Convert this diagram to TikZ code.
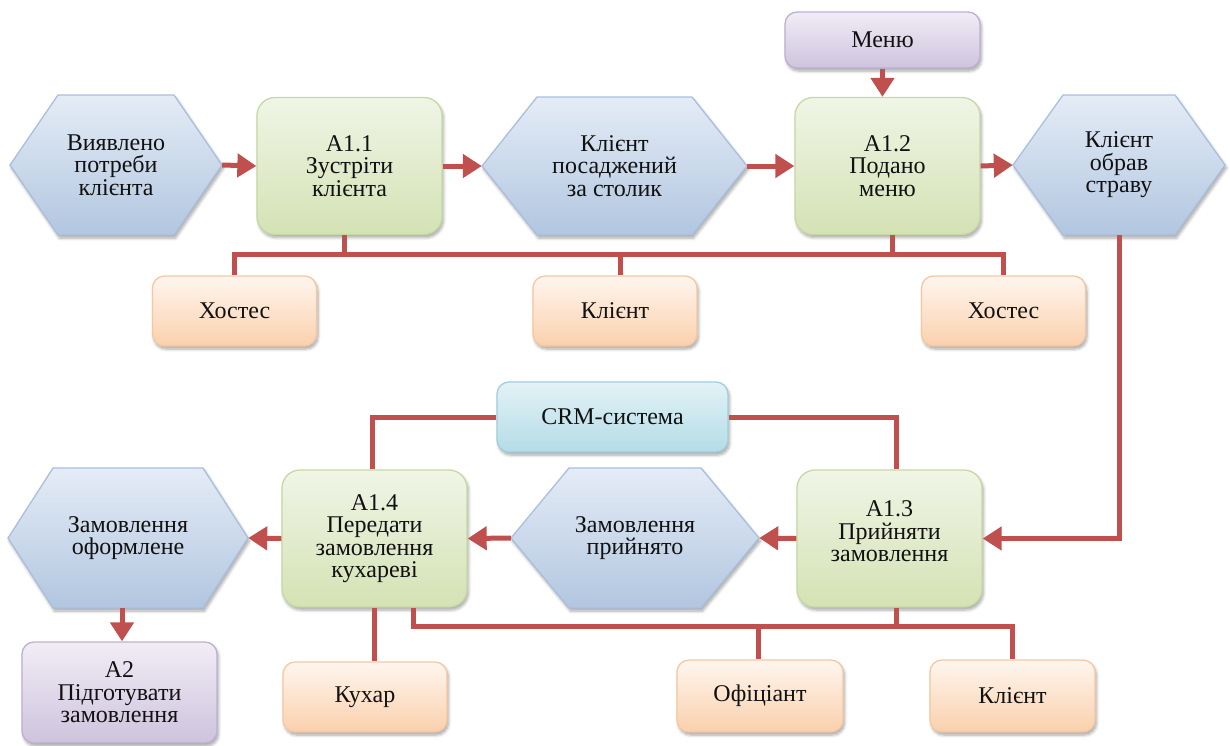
\documentclass[tikz,border=0pt]{standalone}
\usepackage{fontspec}
\setmainfont{Liberation Serif}
\usetikzlibrary{arrows.meta,shadows,shadows.blur,calc}

\definecolor{linkred}{HTML}{C0504D}
\definecolor{hextop}{HTML}{E4ECF6}
\definecolor{hexbot}{HTML}{B2C6E0}
\definecolor{hexline}{HTML}{A9BFDC}
\definecolor{grtop}{HTML}{F0F5E6}
\definecolor{grbot}{HTML}{D4E2B4}
\definecolor{grline}{HTML}{C6D9A3}
\definecolor{ortop}{HTML}{FFF6EF}
\definecolor{orbot}{HTML}{FAD0AC}
\definecolor{orline}{HTML}{F6C7A0}
\definecolor{pptop}{HTML}{F1EDF6}
\definecolor{ppbot}{HTML}{CEC3DD}
\definecolor{ppline}{HTML}{BDB0D2}
\definecolor{cytop}{HTML}{E3F2F6}
\definecolor{cybot}{HTML}{B4DCE7}
\definecolor{cyline}{HTML}{9ECFDD}
\definecolor{txt}{HTML}{111111}

\tikzset{
  softshadow/.style={blur shadow={shadow blur steps=6, shadow xshift=1.5pt,
      shadow yshift=-3pt, shadow blur radius=3pt, shadow opacity=35}},
  boxbase/.style={rectangle, draw, line width=1.3pt, align=center, text=txt,
      font=\fontsize{24}{22.5}\selectfont, inner sep=2pt, softshadow},
  funcbox/.style={boxbase, rounded corners=18pt, draw=grline, top color=grtop,
      bottom color=grbot, minimum width=185pt, minimum height=137pt},
  rolebox/.style={boxbase, rounded corners=12pt, draw=orline, top color=ortop,
      bottom color=orbot, minimum width=164pt, minimum height=70pt},
  ctrlbox/.style={boxbase, rounded corners=12pt, draw=ppline, top color=pptop,
      bottom color=ppbot},
  toolbox/.style={boxbase, rounded corners=12pt, draw=cyline, top color=cytop,
      bottom color=cybot},
  hexfill/.style={draw=hexline, line width=1.3pt, top color=hextop,
      bottom color=hexbot, softshadow},
  hexlabel/.style={rectangle, align=center, text=txt,
      font=\fontsize{24}{22.5}\selectfont, inner sep=0pt},
  link/.style={draw=linkred, line width=5pt},
  flow/.style={link, -{Triangle[length=19pt,width=23pt]}},
}

% hexagon state: name, centre x, centre y, half width, half height, inset, text
\newcommand\statehex[7]{%
  \path[hexfill] (#2-#4,#3) -- (#2-#4+#6,#3-#5) -- (#2+#4-#6,#3-#5)
    -- (#2+#4,#3) -- (#2+#4-#6,#3+#5) -- (#2-#4+#6,#3+#5) -- cycle;
  \node[hexlabel, minimum width=2*#4, minimum height=2*#5] (#1) at (#2,#3) {#7};
}

\begin{document}
\begin{tikzpicture}[x=1pt, y=-1pt]
\useasboundingbox (0,0) rectangle (1230,745);

% --- upper row ---
\statehex{need}{116}{165}{106}{70}{48}{Виявлено\\потреби\\клієнта}
\node[funcbox] (meet) at (349.5,166) {A1.1\\Зустріти\\клієнта};
\statehex{seated}{614.5}{166}{132.5}{69}{55}{Клієнт\\посаджений\\за столик}
\node[funcbox] (serve) at (887.5,166) {A1.2\\Подано\\меню};
\node[ctrlbox, minimum width=195pt, minimum height=56pt] (menu) at (882.5,40) {Меню};
\statehex{chosen}{1119}{165}{106}{70}{50}{Клієнт\\обрав\\страву}

\node[rolebox] (host1) at (234.5,311) {Хостес};
\node[rolebox] (guest1) at (615,311) {Клієнт};
\node[rolebox] (host2) at (1003.5,311) {Хостес};

% --- lower row ---
\node[toolbox, minimum width=231pt, minimum height=70pt] (crm) at (612.5,417) {CRM-система};
\node[funcbox] (pass) at (374.5,538.5) {A1.4\\Передати\\замовлення\\кухареві};
\statehex{taken}{635}{538}{124}{70}{58}{Замовлення\\прийнято}
\node[funcbox, text depth=14pt] (take) at (889.5,538.5) {A1.3\\Прийняти\\замовлення};
\statehex{done}{128}{538}{120}{70}{45}{Замовлення\\оформлене}
\node[ctrlbox, minimum width=195pt, minimum height=101pt] (cook) at (119.5,692.5) {A2\\Підготувати\\замовлення};

\node[rolebox] (chef) at (365,697) {Кухар};
\node[rolebox, minimum width=166pt, minimum height=72pt] (waiter) at (760,696) {Офіціант};
\node[rolebox, minimum width=165pt, minimum height=72pt] (guest2) at (1012.5,696) {Клієнт};

% --- flow arrows ---
\draw[flow] (need.east) -- (meet.west);
\draw[flow] (meet.east) -- (seated.west);
\draw[flow] (seated.east) -- (serve.west);
\draw[flow] (serve.east) -- (chosen.west);
\draw[flow] (menu.south) -- (menu.south |- serve.north);
\draw[flow] (chosen.south) |- (take.east);
\draw[flow] (take.west) -- (taken.east);
\draw[flow] (taken.west) -- (pass.east);
\draw[flow] (pass.west) -- (done.east);
\draw[flow] (done.south) ++(-6,0) coordinate (dropA) -- (dropA |- cook.north);

% --- mechanisms, upper bus ---
\coordinate (busA) at (0,254);
\draw[link] (host1.north) -- (host1.north |- busA) -- (host2.north |- busA) -- (host2.north);
\draw[link] (meet.south) ++(-5,0) coordinate (stubA) -- (stubA |- busA);
\draw[link] (serve.south) ++(5,0) coordinate (stubB) -- (stubB |- busA);
\draw[link] (guest1.north) ++(5,0) coordinate (stubC) -- (stubC |- busA);

% --- mechanisms, lower bus ---
\coordinate (busB) at (0,626);
\draw[link] (pass.south) ++(38.5,0) coordinate (stubD)
  -- (stubD |- busB) -- (guest2.north |- busB) -- (guest2.north);
\draw[link] (take.south) ++(6.5,0) coordinate (stubE) -- (stubE |- busB);
\draw[link] (waiter.north) ++(-2,0) coordinate (stubF) -- (stubF |- busB);
\draw[link] (pass.south) -- (pass.south |- chef.north);

% --- CRM system ---
\draw[link] (pass.north) ++(-2.5,0) coordinate (stubG) |- (crm.west);
\draw[link] (crm.east) -| ($(take.north)+(6.5,0)$);
\end{tikzpicture}
\end{document}
